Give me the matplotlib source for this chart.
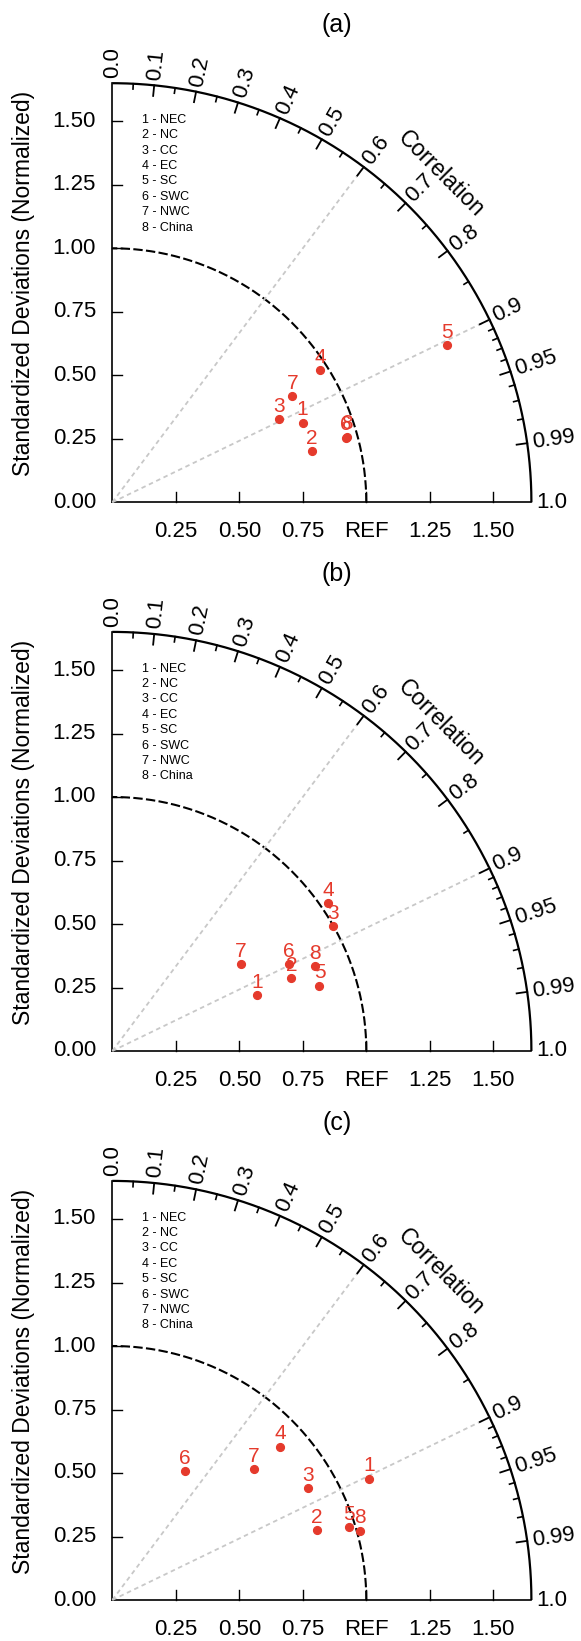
import numpy as np
import matplotlib
matplotlib.use("Agg")
import matplotlib.pyplot as plt

plt.rcParams['font.family'] = ['Liberation Sans', 'DejaVu Sans']

# -------------------------------
# data (normalized std, correlation)
# -------------------------------
regions = ["NEC", "NC", "CC", "EC", "SC", "SWC", "NWC", "China"]

std_a = [0.812, 0.812, 0.734, 0.970, 1.454, 0.954, 0.823, 0.959]
cc_a = [0.923, 0.969, 0.895, 0.844, 0.905, 0.964, 0.861, 0.963]

std_b = [0.610, 0.761, 0.998, 1.029, 0.855, 0.775, 0.612, 0.866]
cc_b = [0.933, 0.926, 0.871, 0.825, 0.954, 0.898, 0.829, 0.923]

std_c = [1.118, 0.850, 0.888, 0.896, 0.974, 0.583, 0.758, 1.011]
cc_c = [0.904, 0.946, 0.869, 0.739, 0.956, 0.492, 0.735, 0.963]

panel_titles = ["(a)", "(b)", "(c)"]

x_ticks = [0.25, 0.5, 0.75, 1.0, 1.25, 1.5]
x_ticklabels = ["0.25", "0.50", "0.75", "REF", "1.25", "1.50"]
y_ticks = [0.0, 0.25, 0.5, 0.75, 1.0, 1.25, 1.5]
y_ticklabels = ["0.00", "0.25", "0.50", "0.75", "1.00", "1.25", "1.50"]

corr_major = [0.0, 0.1, 0.2, 0.3, 0.4, 0.5, 0.6, 0.7, 0.8, 0.9, 0.95, 0.99, 1.0]
corr_labels = ["0.0", "0.1", "0.2", "0.3", "0.4", "0.5", "0.6", "0.7", "0.8",
               "0.9", "0.95", "0.99", "1.0"]
corr_minor = [0.05, 0.15, 0.25, 0.35, 0.45, 0.55, 0.65, 0.75, 0.85,
              0.91, 0.92, 0.93, 0.94, 0.96, 0.97, 0.98]
corr_rays = [0.6, 0.9]

RMAX = 1.65
RED = "#e53a2c"
GRAY = "#c8c8c8"

# -------------------------------
# pixel layout
# -------------------------------
W, H = 581, 1641
S = 254.0          # pixels per std unit
OX = 112.3         # x pixel of origin
origins = [502.3, 1051.0, 1600.0]
bands = [(0, 546), (546, 1095), (1095, 1641)]


def taylor_panel(fig, top, bot, oy, std, cc, title):

    ax = fig.add_axes([0, (H - bot) / H, 1, (bot - top) / H])
    ax.set_xlim(-OX / S, (W - OX) / S)
    ax.set_ylim(-(bot - oy) / S, (oy - top) / S)
    ax.axis("off")

    th = np.linspace(0, np.pi / 2, 400)

    # outer arc + axes
    ax.plot(RMAX * np.cos(th), RMAX * np.sin(th), color="k", lw=1.6,
            clip_on=False, solid_capstyle="butt")
    ax.plot([0, RMAX], [0, 0], color="k", lw=1.2, clip_on=False)
    ax.plot([0, 0], [0, RMAX], color="k", lw=1.2, clip_on=False)

    # reference arc
    ax.plot(np.cos(th), np.sin(th), color="k", lw=1.5, dashes=(4.5, 1.6),
            clip_on=False)

    # gray correlation rays
    for c in corr_rays:
        a = np.arccos(c)
        ax.plot([0, RMAX * np.cos(a)], [0, RMAX * np.sin(a)], color=GRAY,
                lw=1.3, dashes=(2.5, 2.0), clip_on=False)

    # correlation ticks
    for c, lab in zip(corr_major, corr_labels):
        a = np.arccos(c)
        if 0.0 < c < 1.0:
            ax.plot([RMAX * np.cos(a), (RMAX - 0.042) * np.cos(a)],
                    [RMAX * np.sin(a), (RMAX - 0.042) * np.sin(a)],
                    color="k", lw=1.3, clip_on=False)
        r = RMAX + 0.02
        ax.text(r * np.cos(a), r * np.sin(a), lab, rotation=np.degrees(a),
                rotation_mode="anchor", ha="left", va="center", fontsize=16)
    for c in corr_minor:
        a = np.arccos(c)
        ax.plot([RMAX * np.cos(a), (RMAX - 0.021) * np.cos(a)],
                [RMAX * np.sin(a), (RMAX - 0.021) * np.sin(a)],
                color="k", lw=1.2, clip_on=False)

    ax.text(1.829 * np.cos(np.radians(45)), 1.829 * np.sin(np.radians(45)),
            "Correlation", rotation=-45, ha="center", va="center",
            rotation_mode="anchor", fontsize=16.5)

    # std ticks and labels
    for x, lab in zip(x_ticks, x_ticklabels):
        ax.plot([x, x], [0, 0.04], color="k", lw=1.0, clip_on=False)
        ax.text(x, -0.075, lab, ha="center", va="top", fontsize=16)
    for y, lab in zip(y_ticks, y_ticklabels):
        if y > 0:
            ax.plot([0, 0.04], [y, y], color="k", lw=1.0, clip_on=False)
        ax.text(-0.064, y, lab, ha="right", va="center", fontsize=16)

    ax.text(-0.348, 0.86, "Standardized Deviations (Normalized)", rotation=90,
            ha="center", va="center", fontsize=16.5)

    ax.text(0.885, 1.878, title, ha="center", va="center", fontsize=18)

    # legend of regions
    for i, name in enumerate(regions):
        ax.text(0.116, 1.505 - i * 0.0605, "%d - %s" % (i + 1, name),
                ha="left", va="center", fontsize=9)

    # points
    std = np.array(std)
    cc = np.array(cc)
    xs = std * cc
    ys = std * np.sqrt(1 - cc ** 2)
    for i in range(len(xs)):
        ax.plot(xs[i], ys[i], "o", color=RED, ms=5.6, mec=RED, clip_on=False)
        ax.annotate(str(i + 1), (xs[i], ys[i]), xytext=(0, 2.5),
                    textcoords="offset points", ha="center", va="bottom",
                    color=RED, fontsize=15)

    return ax


fig = plt.figure(figsize=(W / 100, H / 100), dpi=100)

panels = [(std_a, cc_a), (std_b, cc_b), (std_c, cc_c)]
for k, (std, cc) in enumerate(panels):
    top, bot = bands[k]
    taylor_panel(fig, top, bot, origins[k], std, cc, panel_titles[k])

fig.savefig("out.png", dpi=100)
